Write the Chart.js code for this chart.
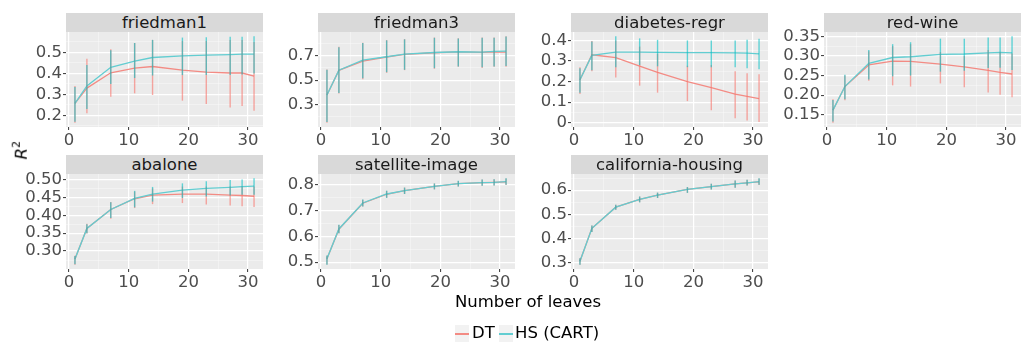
<!DOCTYPE html>
<html>
<head>
<meta charset="utf-8">
<script src="https://cdn.jsdelivr.net/npm/chart.js@4"></script>
<style>
body { margin: 0; background: #fff; width: 1022px; height: 344px; overflow: hidden; position: relative; font-family: 'DejaVu Sans', sans-serif; }
canvas { position: absolute; }
.strip { position: absolute; height: 19px; background: #D9D9D9; color: #1A1A1A; font-size: 16.5px; line-height: 19px; text-align: center; z-index: 2; }
.title { position: absolute; color: #000; font-size: 16.5px; white-space: nowrap; }
.key { position: absolute; width: 14px; height: 17px; background: #F2F2F2; }
.key span { position: absolute; left: 0; right: 0; top: 8px; height: 1.5px; }
</style>
</head>
<body>
<script>
'use strict';
const leaves = [1, 3, 7, 11, 14, 19, 23, 27, 29, 31];
const xTickLabels = ['0', '10', '20', '30'];
const panelNames = ['friedman1', 'friedman3', 'diabetes-regr', 'red-wine', 'abalone', 'satellite-image', 'california-housing'];
const seriesNames = ['DT', 'HS (CART)'];

// friedman1
const friedman1Ticks = ['0.2', '0.3', '0.4', '0.5'];
const friedman1DT = [0.257, 0.330, 0.403, 0.425, 0.433, 0.416, 0.406, 0.402, 0.402, 0.387];
const friedman1DTLow = [0.165, 0.210, 0.289, 0.305, 0.297, 0.270, 0.254, 0.238, 0.244, 0.222];
const friedman1DTHigh = [0.340, 0.470, 0.515, 0.545, 0.560, 0.555, 0.555, 0.560, 0.560, 0.550];
const friedman1HS = [0.257, 0.340, 0.429, 0.459, 0.476, 0.484, 0.487, 0.490, 0.492, 0.492];
const friedman1HSLow = [0.170, 0.230, 0.350, 0.378, 0.390, 0.392, 0.392, 0.392, 0.395, 0.400];
const friedman1HSHigh = [0.335, 0.440, 0.510, 0.545, 0.560, 0.571, 0.572, 0.575, 0.575, 0.577];

// friedman3
const friedman3Ticks = ['0.3', '0.5', '0.7'];
const friedman3DT = [0.377, 0.580, 0.656, 0.690, 0.712, 0.725, 0.732, 0.728, 0.733, 0.730];
const friedman3DTLow = [0.150, 0.390, 0.508, 0.560, 0.582, 0.593, 0.610, 0.600, 0.610, 0.610];
const friedman3DTHigh = [0.588, 0.774, 0.807, 0.829, 0.837, 0.850, 0.845, 0.850, 0.850, 0.860];
const friedman3HS = [0.377, 0.582, 0.664, 0.692, 0.714, 0.727, 0.733, 0.730, 0.736, 0.738];
const friedman3HSLow = [0.155, 0.395, 0.515, 0.565, 0.585, 0.598, 0.612, 0.605, 0.612, 0.615];
const friedman3HSHigh = [0.585, 0.770, 0.805, 0.827, 0.835, 0.848, 0.843, 0.848, 0.848, 0.858];

// diabetes-regr
const diabetesTicks = ['0', '0.1', '0.2', '0.3', '0.4'];
const diabetesDT = [0.209, 0.330, 0.316, 0.275, 0.245, 0.200, 0.170, 0.139, 0.128, 0.117];
const diabetesDTLow = [0.140, 0.250, 0.220, 0.180, 0.146, 0.105, 0.060, 0.022, 0.011, 0.000];
const diabetesDTHigh = [0.270, 0.397, 0.400, 0.370, 0.335, 0.277, 0.280, 0.250, 0.240, 0.235];
const diabetesHS = [0.209, 0.327, 0.343, 0.343, 0.342, 0.341, 0.341, 0.339, 0.338, 0.335];
const diabetesHSLow = [0.145, 0.255, 0.270, 0.280, 0.274, 0.270, 0.270, 0.270, 0.265, 0.260];
const diabetesHSHigh = [0.265, 0.395, 0.420, 0.410, 0.403, 0.400, 0.400, 0.400, 0.403, 0.408];

// red-wine
const redWineTicks = ['0.15', '0.20', '0.25', '0.30', '0.35'];
const redWineDT = [0.162, 0.222, 0.277, 0.287, 0.286, 0.279, 0.272, 0.263, 0.258, 0.254];
const redWineDTLow = [0.130, 0.187, 0.237, 0.225, 0.222, 0.230, 0.220, 0.207, 0.201, 0.195];
const redWineDTHigh = [0.190, 0.250, 0.312, 0.325, 0.330, 0.310, 0.300, 0.315, 0.310, 0.306];
const redWineHS = [0.162, 0.222, 0.281, 0.296, 0.298, 0.304, 0.305, 0.308, 0.309, 0.308];
const redWineHSLow = [0.133, 0.190, 0.240, 0.248, 0.250, 0.260, 0.262, 0.269, 0.270, 0.264];
const redWineHSHigh = [0.188, 0.252, 0.315, 0.330, 0.335, 0.344, 0.344, 0.347, 0.347, 0.350];

// abalone
const abaloneTicks = ['0.30', '0.35', '0.40', '0.45', '0.50'];
const abaloneDT = [0.278, 0.363, 0.416, 0.446, 0.456, 0.459, 0.459, 0.456, 0.455, 0.453];
const abaloneDTLow = [0.262, 0.349, 0.390, 0.420, 0.431, 0.434, 0.430, 0.427, 0.425, 0.423];
const abaloneDTHigh = [0.287, 0.376, 0.437, 0.466, 0.475, 0.480, 0.480, 0.480, 0.480, 0.480];
const abaloneHS = [0.278, 0.363, 0.416, 0.447, 0.459, 0.470, 0.475, 0.478, 0.480, 0.481];
const abaloneHSLow = [0.263, 0.350, 0.392, 0.422, 0.438, 0.448, 0.452, 0.455, 0.457, 0.457];
const abaloneHSHigh = [0.286, 0.375, 0.436, 0.468, 0.479, 0.489, 0.495, 0.498, 0.500, 0.503];

// satellite-image
const satelliteTicks = ['0.5', '0.6', '0.7', '0.8'];
const satelliteDT = [0.513, 0.628, 0.729, 0.764, 0.778, 0.795, 0.805, 0.809, 0.810, 0.812];
const satelliteDTLow = [0.491, 0.612, 0.716, 0.750, 0.765, 0.783, 0.794, 0.797, 0.798, 0.800];
const satelliteDTHigh = [0.525, 0.644, 0.743, 0.777, 0.790, 0.806, 0.816, 0.821, 0.822, 0.825];
const satelliteHS = [0.513, 0.629, 0.730, 0.765, 0.778, 0.795, 0.805, 0.809, 0.810, 0.813];
const satelliteHSLow = [0.490, 0.612, 0.716, 0.750, 0.765, 0.783, 0.794, 0.797, 0.798, 0.801];
const satelliteHSHigh = [0.526, 0.645, 0.744, 0.778, 0.790, 0.806, 0.817, 0.821, 0.822, 0.826];

// california-housing
const californiaTicks = ['0.3', '0.4', '0.5', '0.6'];
const californiaDT = [0.307, 0.443, 0.530, 0.562, 0.580, 0.603, 0.615, 0.626, 0.630, 0.634];
const californiaDTLow = [0.293, 0.428, 0.519, 0.550, 0.568, 0.589, 0.603, 0.610, 0.619, 0.621];
const californiaDTHigh = [0.320, 0.455, 0.540, 0.574, 0.590, 0.613, 0.627, 0.640, 0.643, 0.648];
const californiaHS = [0.307, 0.443, 0.530, 0.562, 0.580, 0.603, 0.615, 0.626, 0.630, 0.635];
const californiaHSLow = [0.293, 0.428, 0.519, 0.550, 0.568, 0.589, 0.603, 0.610, 0.619, 0.622];
const californiaHSHigh = [0.320, 0.455, 0.540, 0.574, 0.590, 0.613, 0.627, 0.640, 0.643, 0.649];

const panels = [
    {ticks: friedman1Ticks, dt: friedman1DT, dtLow: friedman1DTLow, dtHigh: friedman1DTHigh, hs: friedman1HS, hsLow: friedman1HSLow, hsHigh: friedman1HSHigh},
    {ticks: friedman3Ticks, dt: friedman3DT, dtLow: friedman3DTLow, dtHigh: friedman3DTHigh, hs: friedman3HS, hsLow: friedman3HSLow, hsHigh: friedman3HSHigh},
    {ticks: diabetesTicks, dt: diabetesDT, dtLow: diabetesDTLow, dtHigh: diabetesDTHigh, hs: diabetesHS, hsLow: diabetesHSLow, hsHigh: diabetesHSHigh},
    {ticks: redWineTicks, dt: redWineDT, dtLow: redWineDTLow, dtHigh: redWineDTHigh, hs: redWineHS, hsLow: redWineHSLow, hsHigh: redWineHSHigh},
    {ticks: abaloneTicks, dt: abaloneDT, dtLow: abaloneDTLow, dtHigh: abaloneDTHigh, hs: abaloneHS, hsLow: abaloneHSLow, hsHigh: abaloneHSHigh},
    {ticks: satelliteTicks, dt: satelliteDT, dtLow: satelliteDTLow, dtHigh: satelliteDTHigh, hs: satelliteHS, hsLow: satelliteHSLow, hsHigh: satelliteHSHigh},
    {ticks: californiaTicks, dt: californiaDT, dtLow: californiaDTLow, dtHigh: californiaDTHigh, hs: californiaHS, hsLow: californiaHSLow, hsHigh: californiaHSHigh},
];

// lines are solid (cyan hides red where they coincide), error bars are translucent
const RED_LINE = '#F38B84';
const CYAN_LINE = '#62CDD1';
const RED_BAR = 'rgba(248,118,109,0.62)';
const CYAN_BAR = 'rgba(0,191,196,0.6)';

// facet grid geometry
const COL_LEFT = [66, 318, 571, 824];
const PANEL_W = 197;
const ROW_TOP = [32, 174];
const PLOT_H = 95;
const STRIP_H = 19;
const YW = 60, PAD_TOP = 12, PAD_RIGHT = 6, XH = 30;

Chart.defaults.font.family = 'DejaVu Sans';

const panelBg = {
    id: 'panelBg',
    beforeDraw(chart) {
        const {ctx, chartArea: a} = chart;
        ctx.save();
        ctx.fillStyle = '#EBEBEB';
        ctx.fillRect(a.left, a.top, a.right - a.left, a.bottom - a.top);
        ctx.restore();
    }
};

function expand(lo, hi) {
    let pad = (hi - lo) * 0.05;
    return [lo - pad, hi + pad];
}

function tickSet(labels, min, max) {
    let major = labels.map(Number);
    let step = major[1] - major[0];
    let minor = [];
    for (let i = -1; i < major.length; i++) {
        let v = major[0] + step * (i + 0.5);
        if (v >= min && v <= max) minor.push(v);
    }
    return {labels, major, minor};
}

function isMajor(t, v) {
    return t.major.some(m => Math.abs(m - v) < 1e-9);
}

function axisFor(t, min, max, fit) {
    return {
        type: 'linear',
        min: min,
        max: max,
        offset: false,
        afterBuildTicks: s => { s.ticks = t.major.concat(t.minor).sort((a, b) => a - b).map(v => ({value: v})); },
        afterFit: fit,
        border: {display: false},
        grid: {
            offset: false,
            color: c => (c.tick && isMajor(t, c.tick.value)) ? '#FFFFFF' : 'rgba(255,255,255,0.6)',
            lineWidth: c => (c.tick && isMajor(t, c.tick.value)) ? 1.2 : 0.6,
            tickColor: c => (c.tick && isMajor(t, c.tick.value)) ? '#333333' : 'rgba(0,0,0,0)',
            tickWidth: 1,
            tickLength: 3,
            drawTicks: true
        },
        ticks: {
            autoSkip: false,
            maxRotation: 0,
            padding: 1,
            color: '#4D4D4D',
            font: {size: 16.5},
            callback: v => {
                let k = t.major.findIndex(m => Math.abs(m - v) < 1e-9);
                return k < 0 ? '' : t.labels[k];
            }
        }
    };
}

const [X_MIN, X_MAX] = expand(Math.min(...leaves), Math.max(...leaves));
const xt = tickSet(xTickLabels, X_MIN, X_MAX);

function points(ys) {
    return leaves.map((x, i) => ({x: x, y: ys[i]}));
}
function ranges(lo, hi) {
    return leaves.map((x, i) => ({x: x, y: [lo[i], hi[i]]}));
}

panels.forEach((p, idx) => {
    let col = idx % 4, row = Math.floor(idx / 4);
    let left = COL_LEFT[col], top = ROW_TOP[row];

    let strip = document.createElement('div');
    strip.className = 'strip';
    strip.style.left = left + 'px';
    strip.style.top = (top - STRIP_H) + 'px';
    strip.style.width = PANEL_W + 'px';
    strip.textContent = panelNames[idx];
    document.body.appendChild(strip);

    let canvas = document.createElement('canvas');
    let w = YW + PANEL_W + PAD_RIGHT, h = PAD_TOP + PLOT_H + XH;
    canvas.width = w;
    canvas.height = h;
    canvas.style.width = w + 'px';
    canvas.style.height = h + 'px';
    canvas.style.left = (left - YW) + 'px';
    canvas.style.top = (top - PAD_TOP) + 'px';
    document.body.appendChild(canvas);

    let [yMin, yMax] = expand(Math.min(...p.dtLow, ...p.hsLow), Math.max(...p.dtHigh, ...p.hsHigh));
    let yt = tickSet(p.ticks, yMin, yMax);

    new Chart(canvas, {
        type: 'line',
        data: {
            datasets: [
                {type: 'line', data: points(p.dt), borderColor: RED_LINE, borderWidth: 1.3, pointRadius: 0, tension: 0, fill: false, order: 4},
                {type: 'line', data: points(p.hs), borderColor: CYAN_LINE, borderWidth: 1.3, pointRadius: 0, tension: 0, fill: false, order: 3},
                {type: 'bar', data: ranges(p.dtLow, p.dtHigh), backgroundColor: RED_BAR, borderWidth: 0, barThickness: 1.4, grouped: false, inflateAmount: 0, order: 2},
                {type: 'bar', data: ranges(p.hsLow, p.hsHigh), backgroundColor: CYAN_BAR, borderWidth: 0, barThickness: 1.4, grouped: false, inflateAmount: 0, order: 1}
            ]
        },
        options: {
            responsive: false,
            animation: false,
            events: [],
            layout: {padding: {top: PAD_TOP, right: PAD_RIGHT, left: 0, bottom: 0}},
            plugins: {legend: {display: false}, tooltip: {enabled: false}},
            scales: {
                x: axisFor(xt, X_MIN, X_MAX, s => { s.height = XH; }),
                y: axisFor(yt, yMin, yMax, s => { s.width = YW; })
            }
        },
        plugins: [panelBg]
    });
});

// axis titles
let xTitle = document.createElement('div');
xTitle.className = 'title';
xTitle.style.left = '328px';
xTitle.style.width = '400px';
xTitle.style.textAlign = 'center';
xTitle.style.top = '292px';
xTitle.textContent = 'Number of leaves';
document.body.appendChild(xTitle);

let yTitle = document.createElement('div');
yTitle.className = 'title';
yTitle.style.left = '0px';
yTitle.style.top = '140px';
yTitle.style.width = '40px';
yTitle.style.textAlign = 'center';
yTitle.style.transform = 'rotate(-90deg)';
yTitle.innerHTML = '<i>R</i><sup style="font-size:11px">2</sup>';
document.body.appendChild(yTitle);

// legend
const legendKeys = [{x: 455, color: RED_LINE}, {x: 499, color: CYAN_LINE}];
const legendText = [472, 515];
seriesNames.forEach((name, i) => {
    let key = document.createElement('div');
    key.className = 'key';
    key.style.left = legendKeys[i].x + 'px';
    key.style.top = '325px';
    key.innerHTML = '<span style="background:' + legendKeys[i].color + '"></span>';
    document.body.appendChild(key);

    let label = document.createElement('div');
    label.className = 'title';
    label.style.left = legendText[i] + 'px';
    label.style.top = '323px';
    label.textContent = name;
    document.body.appendChild(label);
});
</script>
</body>
</html>
